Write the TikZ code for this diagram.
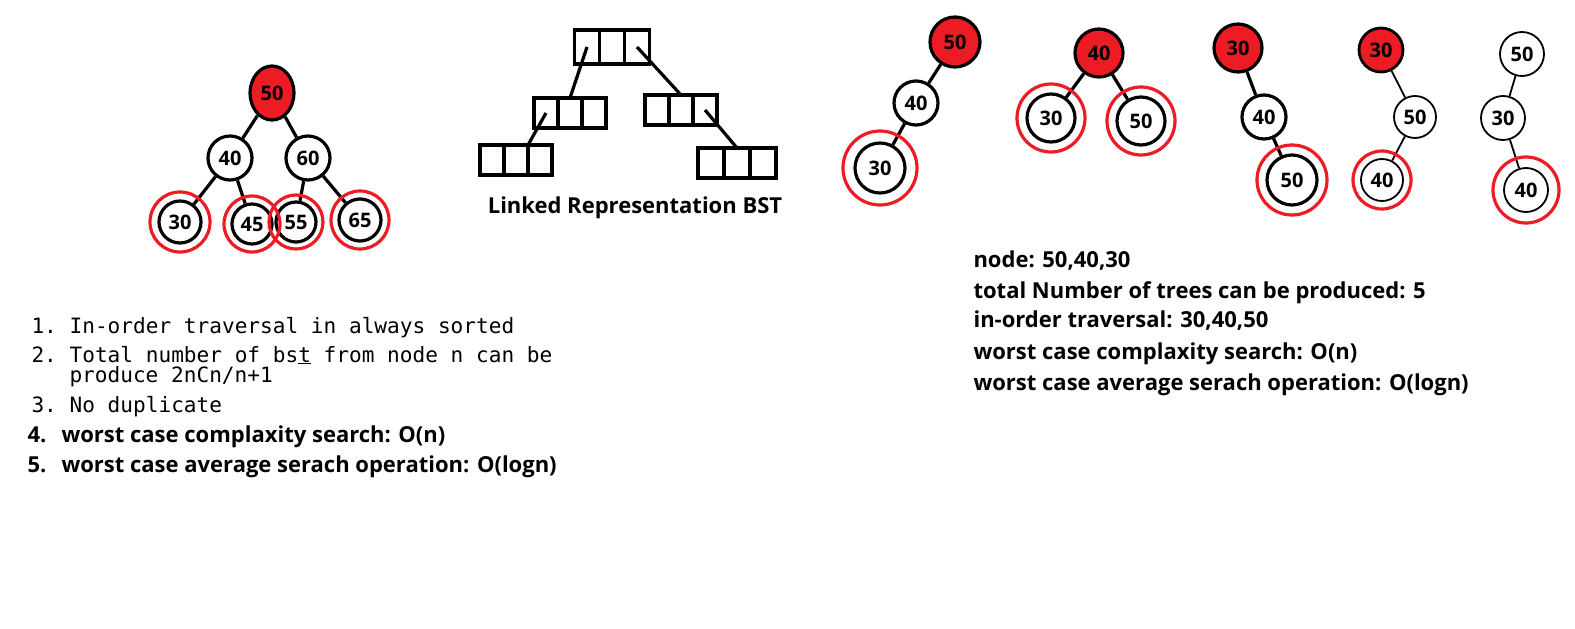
\documentclass[tikz,border=0pt]{standalone}
\usepackage{fontspec}
\setmainfont{Open Sans}
\setmonofont{DejaVu Sans Mono}
\usetikzlibrary{positioning,shapes.geometric}
\definecolor{bstred}{RGB}{237,28,36}
\newcommand{\numfont}{\fontsize{20}{20}\selectfont\bfseries}
\newcommand{\txtfont}{\fontsize{22}{22}\selectfont\bfseries}
\newcommand{\codefont}{\fontsize{21.1}{21.1}\selectfont\ttfamily}

\begin{document}
\begin{tikzpicture}[x=1pt,y=-1pt,
  bst/.style={circle,draw,line width=3.2pt,minimum size=44pt,inner sep=0pt,font=\numfont},
  redbst/.style={bst,fill=bstred},
  thinbst/.style={bst,line width=1.8pt},
  ring/.style={circle,draw=bstred,line width=3.2pt,inner sep=0pt},
  edge/.style={line width=3.2pt},
  thinedge/.style={line width=1.8pt},
  cell/.style={rectangle,draw,line width=3.2pt,minimum width=24pt,minimum height=30pt,inner sep=0pt,outer sep=0pt}]
\useasboundingbox (0,0) rectangle (1575,629);

% full BST
\node[redbst,ellipse,minimum width=44pt,minimum height=54pt] (L50) at (272,93) {50};
\node[bst] (L40) at (230,158) {40};
\node[bst] (L60) at (308,158) {60};
\node[bst,minimum size=42pt] (L30) at (180,222) {30};
\node[bst,minimum size=40pt] (L45) at (252,224) {45};
\node[bst,minimum size=40pt] (L55) at (296,222) {55};
\node[bst,minimum size=42pt] (L65) at (360,220) {65};
\draw[edge] (L50)--(L40); \draw[edge] (L50)--(L60);
\draw[edge] (L40)--(L30); \draw[edge] (L40)--(L45);
\draw[edge] (L60)--(L55); \draw[edge] (L60)--(L65);
\foreach \p/\s in {L30/60,L45/56,L55/54,L65/58}{\node[ring,minimum size=\s pt] (r\p) at (\p) {};}

% linked representation
\node[cell,minimum width=25pt,minimum height=34pt] (a2) at (612,47) {};
\node[cell,minimum width=25pt,minimum height=34pt,left=0pt of a2] (a1) {};
\node[cell,minimum width=25pt,minimum height=34pt,right=0pt of a2] (a3) {};
\node[cell] (b2) at (570,113) {};
\node[cell,left=0pt of b2] (b1) {};
\node[cell,right=0pt of b2] (b3) {};
\node[cell] (c2) at (681,110) {};
\node[cell,left=0pt of c2] (c1) {};
\node[cell,right=0pt of c2] (c3) {};
\node[cell] (d2) at (516,160) {};
\node[cell,left=0pt of d2] (d1) {};
\node[cell,right=0pt of d2] (d3) {};
\node[cell,minimum width=26pt] (e2) at (737,163) {};
\node[cell,minimum width=26pt,left=0pt of e2] (e1) {};
\node[cell,minimum width=26pt,right=0pt of e2] (e3) {};
\draw[edge] (a1.center)--(b2.north);
\draw[edge] (a3.center)--(c2.north);
\draw[edge] (b1.center)--(d2.north east);
\draw[edge] (c3.center)--(e2.north);
\node[font=\txtfont] (linked) at (635,208) {Linked Representation BST};

% five trees from 50,40,30
\node[redbst,minimum size=50pt] (A50) at (955,42) {50};
\node[bst] (A40) at (916,103) {40};
\node[bst,minimum size=50pt] (A30) at (880,168) {30};
\draw[edge] (A50)--(A40); \draw[edge] (A40)--(A30);

\node[redbst,minimum size=48pt] (B40) at (1099,53) {40};
\node[bst,minimum size=48pt] (B30) at (1051,118) {30};
\node[bst,minimum size=48pt] (B50) at (1141,121) {50};
\draw[edge] (B40)--(B30); \draw[edge] (B40)--(B50);

\node[redbst,minimum size=48pt] (C30) at (1238,48) {30};
\node[bst] (C40) at (1264,117) {40};
\node[bst,minimum size=50pt] (C50) at (1292,180) {50};
\draw[edge] (C30)--(C40); \draw[edge] (C40)--(C50);

\node[redbst,line width=2.8pt,minimum size=44pt] (D30) at (1381,50) {30};
\node[thinbst,minimum size=42pt] (D50) at (1415,117) {50};
\node[thinbst,minimum size=42pt] (D40) at (1382,180) {40};
\draw[thinedge] (D30)--(D50); \draw[thinedge] (D50)--(D40);

\node[thinbst] (E50) at (1522,54) {50};
\node[thinbst] (E30) at (1503,118) {30};
\node[thinbst] (E40) at (1526,190) {40};
\draw[thinedge] (E50)--(E30); \draw[thinedge] (E30)--(E40);

\foreach \p/\s in {A30/74,B30/68,B50/68,C50/70,D40/58,E40/66}{\node[ring,minimum size=\s pt] (r\p) at (\p) {};}

% notes
\node[anchor=base west,font=\codefont] (note1) at (28,333) {1. In-order traversal in always sorted};
\node[anchor=base west,font=\codefont] (note2) at (28,362) {2. Total number of bs\underline{t} from node n can be};
\node[anchor=base west,font=\codefont] (note2b) at (66,382) {produce 2nCn/n+1};
\node[anchor=base west,font=\codefont] (note3) at (28,412) {3. No duplicate};
\node[anchor=base west,font=\txtfont] (note4) at (24,442) {4.};
\node[anchor=base west,font=\txtfont] (note4t) at (58,442) {worst case complaxity search: O(n)};
\node[anchor=base west,font=\txtfont] (note5) at (24,472) {5.};
\node[anchor=base west,font=\txtfont] (note5t) at (58,472) {worst case average serach operation: O(logn)};

\foreach \y/\t [count=\i] in {267/{node: 50,40,30},298/{total Number of trees can be produced: 5},327/{in-order traversal: 30,40,50},359/{worst case complaxity search: O(n)},390/{worst case average serach operation: O(logn)}}
  {\node[anchor=base west,font=\txtfont] (info\i) at (970,\y) {\t};}
\end{tikzpicture}
\end{document}
